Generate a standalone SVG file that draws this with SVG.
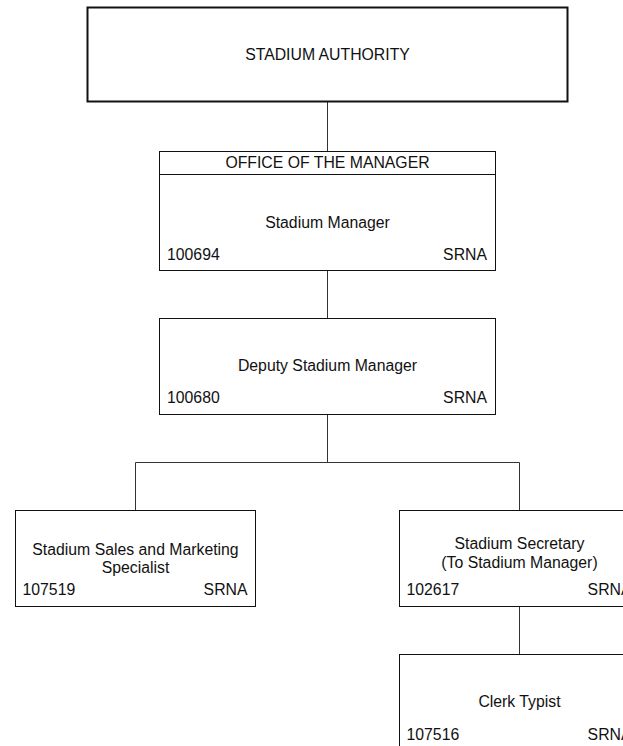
<svg xmlns="http://www.w3.org/2000/svg" width="623" height="746" viewBox="0 0 623 746">
<style>
text{font-family:"Liberation Sans",Arial,sans-serif;font-size:15.8px;fill:#111}
.c{text-anchor:middle}
.r{text-anchor:end}
.box{fill:#fff;stroke:#111;stroke-width:1}
.conn line{stroke:#333;stroke-width:1}
</style>
<rect width="623" height="746" fill="#fff"/>
<g class="conn">
<line x1="327.5" y1="101" x2="327.5" y2="151"/>
<line x1="327.5" y1="270" x2="327.5" y2="318.5"/>
<line x1="327.5" y1="414" x2="327.5" y2="462.5"/>
<line x1="135.5" y1="462.5" x2="519.5" y2="462.5"/>
<line x1="135.5" y1="462.5" x2="135.5" y2="510.5"/>
<line x1="519.5" y1="462.5" x2="519.5" y2="510.5"/>
<line x1="519.5" y1="606.5" x2="519.5" y2="654.5"/>
</g>
<g id="authority">
<rect x="87.5" y="7.5" width="480" height="94" fill="#fff" stroke="#111" stroke-width="2"/>
<text class="c" x="327.5" y="60">STADIUM AUTHORITY</text>
</g>
<g id="manager">
<rect class="box" x="159.5" y="151.5" width="336" height="119"/>
<line x1="159.5" y1="174.5" x2="495.5" y2="174.5" stroke="#111"/>
<text class="c" x="327.5" y="168">OFFICE OF THE MANAGER</text>
<text class="c" x="327.5" y="228">Stadium Manager</text>
<text x="167" y="260">100694</text>
<text class="r" x="487" y="260">SRNA</text>
</g>
<g id="deputy">
<rect class="box" x="159.5" y="318.5" width="336" height="96"/>
<text class="c" x="327.5" y="371">Deputy Stadium Manager</text>
<text x="167" y="403">100680</text>
<text class="r" x="487" y="403">SRNA</text>
</g>
<g id="sales">
<rect class="box" x="15.5" y="510.5" width="240" height="96"/>
<text class="c" x="135.5" y="555">Stadium Sales and Marketing</text>
<text class="c" x="135.5" y="573">Specialist</text>
<text x="22.5" y="595">107519</text>
<text class="r" x="247.5" y="595">SRNA</text>
</g>
<g id="secretary">
<rect class="box" x="399.5" y="510.5" width="240" height="96"/>
<text class="c" x="519.5" y="549">Stadium Secretary</text>
<text class="c" x="519.5" y="568">(To Stadium Manager)</text>
<text x="406.5" y="595">102617</text>
<text class="r" x="631.5" y="595">SRNA</text>
</g>
<g id="clerk">
<rect class="box" x="399.5" y="654.5" width="240" height="96"/>
<text class="c" x="519.5" y="707">Clerk Typist</text>
<text x="406.5" y="740">107516</text>
<text class="r" x="631.5" y="740">SRNA</text>
</g>
</svg>
